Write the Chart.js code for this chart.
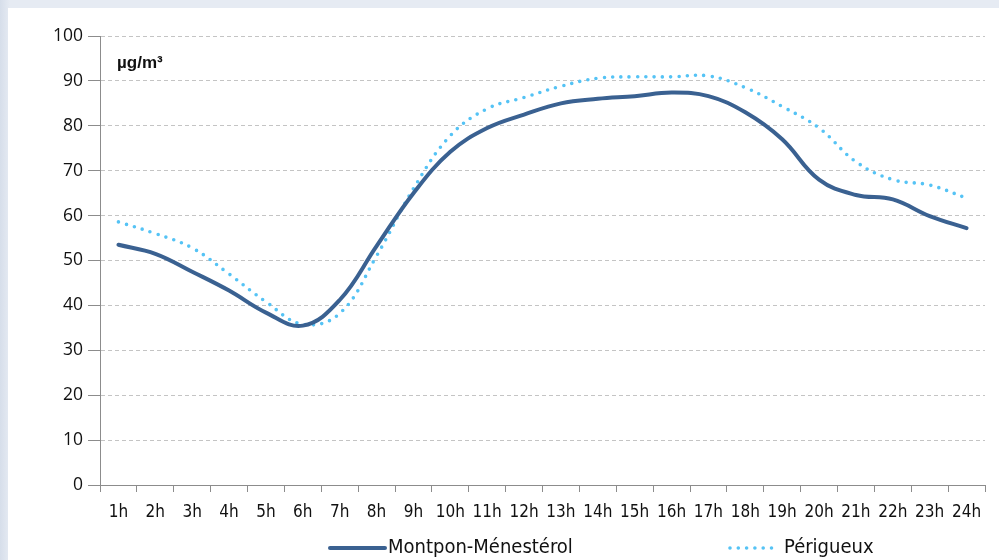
<!DOCTYPE html>
<html>
<head>
<meta charset="utf-8">
<script src="https://cdn.jsdelivr.net/npm/chart.js@4"></script>
<style>
  body { margin: 0; width: 999px; height: 560px; overflow: hidden;
         background: linear-gradient(90deg, #d6deea 0%, #e6ebf3 1%, #e6ebf3 100%); }
  #wrap { position: absolute; left: 8px; top: 8px; width: 991px; height: 552px; background: #fff; }
</style>
</head>
<body>
<div id="wrap"><canvas id="chart"></canvas></div>
<script>
const hours = ['1h','2h','3h','4h','5h','6h','7h','8h','9h','10h','11h','12h','13h','14h','15h','16h','17h','18h','19h','20h','21h','22h','23h','24h'];
const montpon = [53.5, 51.5, 47.5, 43.3, 38.4, 35.5, 41.2, 53.2, 65, 74.2, 79.5, 82.5, 85, 86, 86.6, 87.4, 86.6, 83, 77, 68, 64.6, 63.6, 59.9, 57.2];
const perigueux = [58.6, 56, 52.8, 47, 40.8, 35.8, 38.2, 51, 66, 77.8, 83.8, 86.3, 88.8, 90.6, 90.9, 90.9, 91.1, 88.5, 84.3, 79.5, 72, 68, 66.8, 63.9];
const yTicks = [0, 10, 20, 30, 40, 50, 60, 70, 80, 90, 100];

const narrow = "'Liberation Sans Narrow', 'DejaVu Sans Condensed', sans-serif";

// unit label drawn in the top-left corner of the plot
const unitLabel = {
    id: 'unitLabel',
    afterDraw(chart) {
        const { ctx, chartArea } = chart;
        ctx.save();
        ctx.font = "bold 17px 'Liberation Sans', sans-serif";
        ctx.fillStyle = '#111';
        ctx.textBaseline = 'middle';
        ctx.fillText('µg/m³', chartArea.left + 17, chartArea.top + 27);
        ctx.restore();
    }
};

// legend with the wide gap of the original, built from the datasets
const bottomLegend = {
    id: 'bottomLegend',
    afterDraw(chart) {
        const { ctx } = chart;
        const spots = [{ x: 322, w: 55 }, { x: 722, w: 42 }];
        const y = 540;
        ctx.save();
        ctx.font = "20px " + narrow;
        ctx.textBaseline = 'middle';
        chart.data.datasets.forEach((ds, i) => {
            const s = spots[i];
            ctx.strokeStyle = ds.borderColor;
            ctx.lineWidth = ds.borderWidth;
            ctx.lineCap = ds.borderCapStyle || 'butt';
            ctx.setLineDash(ds.borderDash || []);
            ctx.beginPath();
            ctx.moveTo(s.x, y);
            ctx.lineTo(s.x + s.w, y);
            ctx.stroke();
            ctx.setLineDash([]);
            ctx.fillStyle = '#111';
            ctx.fillText(ds.label, s.x + s.w + (i ? 12 : 3), y);
        });
        ctx.restore();
    }
};

new Chart(document.getElementById('chart'), {
    type: 'line',
    data: {
        labels: hours,
        datasets: [{
            label: 'Montpon-Ménestérol',
            data: montpon,
            borderColor: '#3a6191',
            backgroundColor: '#3a6191',
            borderWidth: 4,
            tension: 0.4,
            pointRadius: 0,
            borderCapStyle: 'round'
        }, {
            label: 'Périgueux',
            data: perigueux,
            borderColor: '#55c3f5',
            backgroundColor: '#55c3f5',
            borderWidth: 3.6,
            borderDash: [0, 8.3],
            borderCapStyle: 'round',
            tension: 0.4,
            pointRadius: 0
        }]
    },
    options: {
        responsive: true,
        maintainAspectRatio: false,
        animation: false,
        layout: { padding: { top: 28, right: 14, left: 0, bottom: 31 } },
        plugins: {
            tooltip: { enabled: false },
            legend: { display: false }
        },
        scales: {
            x: {
                offset: true,
                grid: { offset: true, drawOnChartArea: false, tickLength: 7, color: '#8c8c8c' },
                border: { color: '#8c8c8c' },
                ticks: { color: '#111', padding: 10, maxRotation: 0, autoSkip: false,
                         font: { family: narrow, size: 17 } },
                afterFit: s => { s.height = 44; }
            },
            y: {
                min: 0,
                max: 100,
                afterBuildTicks: s => { s.ticks = yTicks.map(v => ({ value: v })); },
                grid: { color: '#c4c4c4', tickColor: '#8c8c8c', tickLength: 12,
                        tickBorderDash: [1, 0] },
                border: { color: '#8c8c8c', dash: [4, 3] },
                ticks: { color: '#111', padding: 5, font: { family: "'Open Sans', sans-serif", size: 17.5 } },
                afterFit: s => { s.width = 92; }
            }
        }
    },
    plugins: [unitLabel, bottomLegend]
});
</script>
</body>
</html>
